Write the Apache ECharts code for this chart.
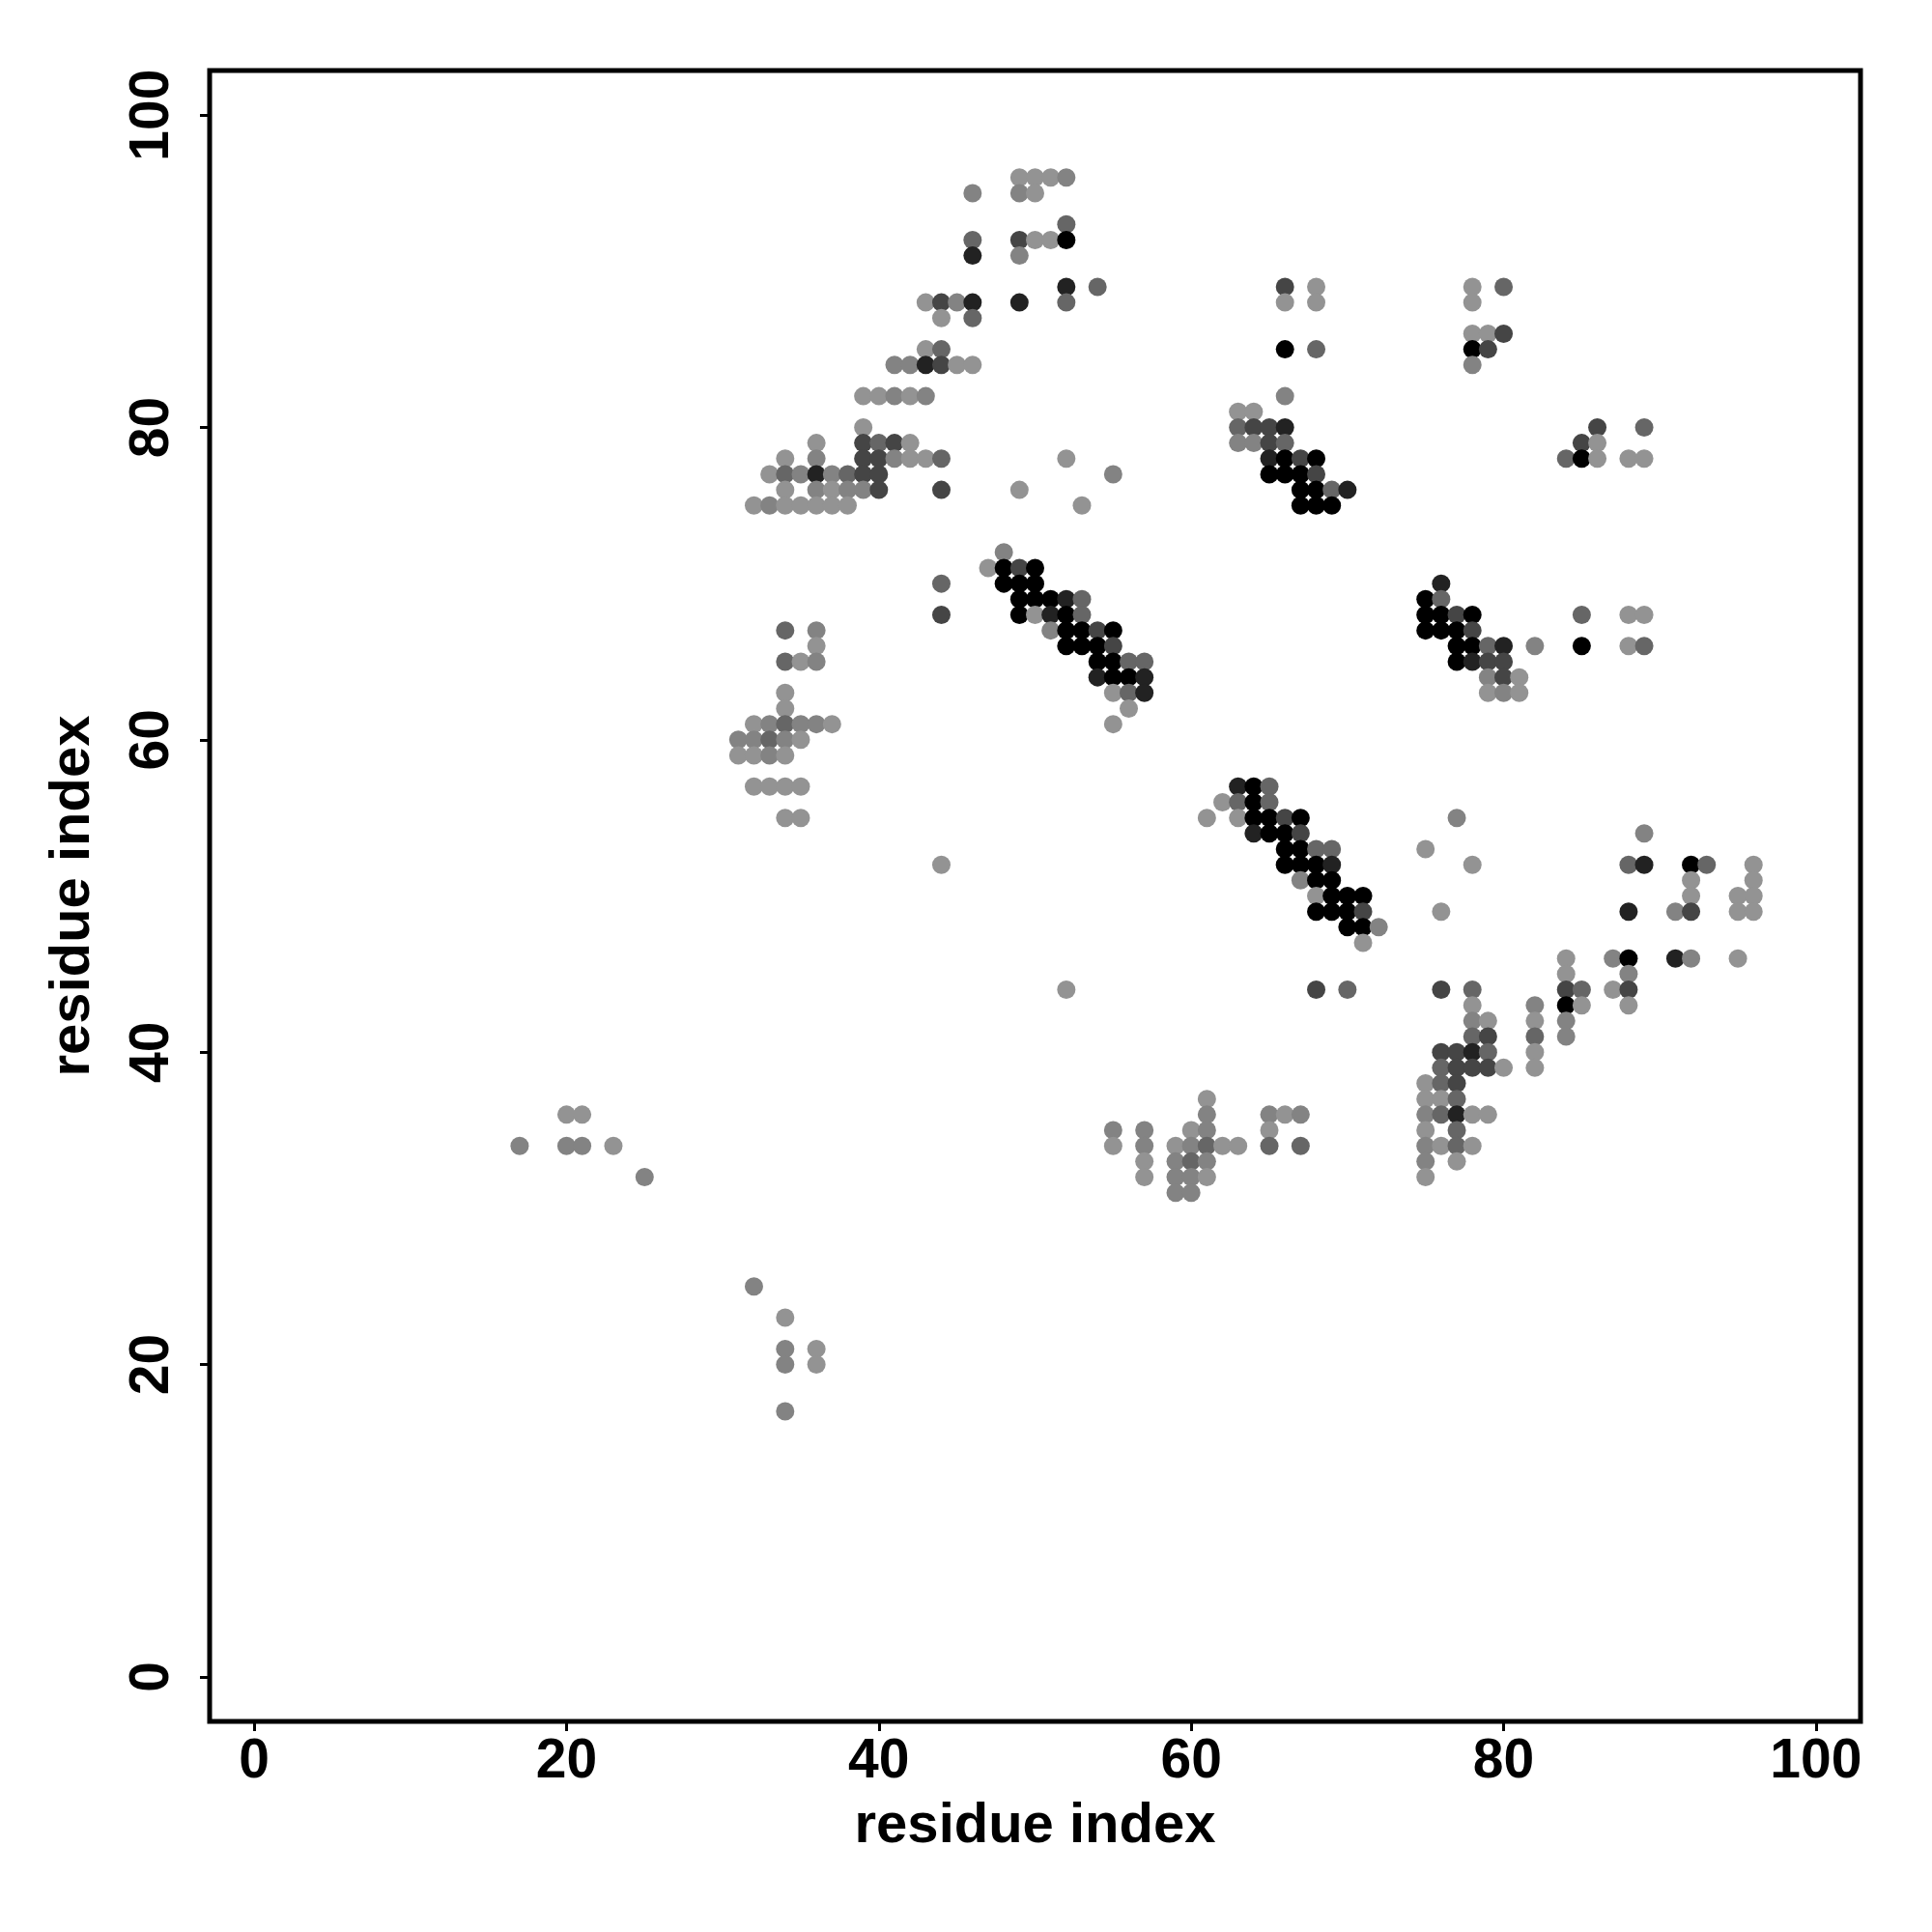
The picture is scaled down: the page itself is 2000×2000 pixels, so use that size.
<!DOCTYPE html>
<html><head><meta charset="utf-8">
<script src="https://cdn.jsdelivr.net/npm/echarts@6/dist/echarts.min.js"></script>
<style>html,body{margin:0;padding:0;background:#fff}#c{width:2000px;height:2000px}</style>
</head><body><div id="c"></div>
<script>
// contact rows: residue index on y, residue indices on x, contact strength level (1 = weak/light ... 6 = strong/black)
const rowY = [96,95,93,92,91,89,88,87,86,85,84,82,81,80,79,78,77,76,75,72,71,70,69,68,67,66,65,64,63,62,61,60,59,57,56,55,54,53,52,51,50,49,48,47,46,45,44,43,42,41,40,39,38,37,36,35,34,33,32,31,25,23,21,20,17];
const rowX = [
  [49,50,51,52],
  [46,49,50],
  [52],
  [46,49,50,51,52],
  [46,49],
  [52,54,66,68,78,80],
  [43,44,45,46,49,52,66,68,78],
  [44,46],
  [78,79,80],
  [43,44,66,68,78,79],
  [41,42,43,44,45,46,78],
  [39,40,41,42,43,66],
  [63,64],
  [39,63,64,65,66,86,89],
  [36,39,40,41,42,63,64,65,66,85,86],
  [34,36,39,40,41,42,43,44,52,65,66,67,68,84,85,86,88,89],
  [33,34,35,36,37,38,39,40,55,65,66,67,68],
  [34,36,37,38,39,40,44,49,67,68,69,70],
  [32,33,34,35,36,37,38,53,67,68,69],
  [48],
  [47,48,49,50],
  [44,48,49,50,76],
  [49,50,51,52,53,75,76],
  [44,49,50,51,52,53,75,76,77,78,85,88,89],
  [34,36,51,52,53,54,55,75,76,77,78],
  [36,52,53,54,55,77,78,79,80,82,85,88,89],
  [34,35,36,54,55,56,57,77,78,79,80],
  [54,55,56,57,79,80,81],
  [34,55,56,57,79,80,81],
  [34,56],
  [32,33,34,35,36,37,55],
  [31,32,33,34,35],
  [31,32,33,34],
  [32,33,34,35,63,64,65],
  [62,63,64,65],
  [34,35,61,63,64,65,66,67,77],
  [64,65,66,67,89],
  [66,67,68,69,75],
  [44,66,67,68,69,78,88,89,92,93,96],
  [67,68,69,92,96],
  [68,69,70,71,92,95,96],
  [68,69,70,71,76,88,91,92,95,96],
  [70,71,72],
  [71],
  [84,87,88,91,92,95],
  [84,88],
  [52,68,70,76,78,84,85,87,88],
  [78,82,84,85,88],
  [78,79,82,84],
  [78,79,82,84],
  [76,77,78,79,82],
  [76,77,78,79,80,82],
  [75,76,77],
  [61,75,76,77],
  [20,21,61,65,66,67,75,76,77,78,79],
  [55,57,60,61,65,75,77],
  [17,20,21,23,55,57,59,60,61,62,63,65,67,75,76,77,78],
  [57,59,60,61,75,77],
  [25,57,59,60,61,75],
  [59,60],
  [32],
  [34],
  [34,36],
  [34,36],
  [34]
];
const rowLevel = [
  [1,1,1,2],
  [2,2,1],
  [3],
  [3,4,1,1,6],
  [5,2],
  [5,3,4,1,1,3],
  [1,4,2,5,5,3,1,1,1],
  [1,3],
  [1,1,4],
  [1,3,6,3,6,4],
  [2,2,5,4,1,1,2],
  [1,1,2,1,2,2],
  [1,1],
  [1,3,4,4,5,4,3],
  [1,4,3,4,1,2,2,4,3,4,1],
  [1,2,4,4,2,1,1,3,1,5,6,4,6,3,6,1,1,1],
  [1,3,2,5,2,3,4,4,2,6,6,6,4],
  [1,2,1,2,2,4,4,1,6,6,3,5],
  [1,2,1,1,1,1,1,1,6,6,6],
  [2],
  [1,6,4,6],
  [3,6,6,6,5],
  [6,6,6,5,3,6,3],
  [4,6,1,5,6,3,6,6,4,6,3,1,1],
  [3,2,2,6,6,4,6,6,6,6,4],
  [1,6,6,6,4,6,6,3,5,2,6,1,3],
  [3,1,2,6,6,3,3,6,5,4,4],
  [5,6,6,5,2,4,1],
  [1,1,3,5,1,2,1],
  [1,1],
  [1,2,3,2,2,1,1],
  [2,2,3,2,1],
  [1,1,2,1],
  [1,1,1,1,5,6,3],
  [1,3,6,3],
  [1,1,1,1,6,6,4,6,2],
  [5,6,6,4,2],
  [6,6,3,3,1],
  [1,6,6,6,5,1,3,5,6,3,1],
  [2,6,6,1,1],
  [1,6,6,6,1,1,1],
  [6,6,6,4,1,5,2,4,1,1],
  [6,6,2],
  [1],
  [1,2,6,5,2,1],
  [1,2],
  [1,4,3,4,3,4,3,1,4],
  [1,2,6,1,1],
  [2,1,1,2],
  [3,4,3,2],
  [4,4,5,3,1],
  [3,4,4,4,1,1],
  [1,3,4],
  [1,1,1,3],
  [1,1,2,2,1,2,2,3,5,1,1],
  [2,2,1,2,1,1,3],
  [2,2,2,1,1,2,1,2,3,1,1,3,3,2,1,3,1],
  [1,2,3,2,2,1],
  [2,1,2,2,1,1],
  [2,2],
  [2],
  [1],
  [2,1],
  [2,1],
  [2]
];
const tickValues = [0,20,40,60,80,100];

const points = [];
rowY.forEach((y,i) => rowX[i].forEach((x,j) => points.push([x, y, rowLevel[i][j]])));

const FONT = '"Liberation Sans", Arial, Helvetica, sans-serif';
const chart = echarts.init(document.getElementById('c'), null, {renderer:'canvas'});
const axisCommon = {
  type:'value', min:-2.85, max:102.85,
  splitLine:{show:false},
  axisLine:{show:false, onZero:false},
  axisTick:{show:true, inside:false, customValues:tickValues, length:10, lineStyle:{color:'#000', width:3}},
  nameLocation:'middle',
  nameTextStyle:{color:'#000', fontFamily:FONT, fontWeight:'bold', fontSize:58}
};
chart.setOption({
  animation: false,
  backgroundColor: '#ffffff',
  grid: {left:217, top:73, width:1709, height:1709, show:true, borderColor:'#000', borderWidth:5, backgroundColor:'transparent'},
  xAxis: Object.assign({}, axisCommon, {
    axisLabel:{customValues:tickValues, color:'#000', fontFamily:FONT, fontWeight:'bold', fontSize:57, margin:14},
    name:'residue index', nameGap:80
  }),
  yAxis: Object.assign({}, axisCommon, {
    axisLabel:{customValues:tickValues, color:'#000', fontFamily:FONT, fontWeight:'bold', fontSize:57, margin:30, rotate:90},
    name:'residue index', nameGap:112
  }),
  visualMap: {show:false, type:'continuous', dimension:2, min:1, max:6,
    inRange:{color:['#939393','#838383','#666666','#454545','#222222','#000000']}},
  series: [{
    type:'scatter', data: points, symbol:'circle', symbolSize:19,
    itemStyle:{opacity:1}
  }]
});
</script>
</body></html>
